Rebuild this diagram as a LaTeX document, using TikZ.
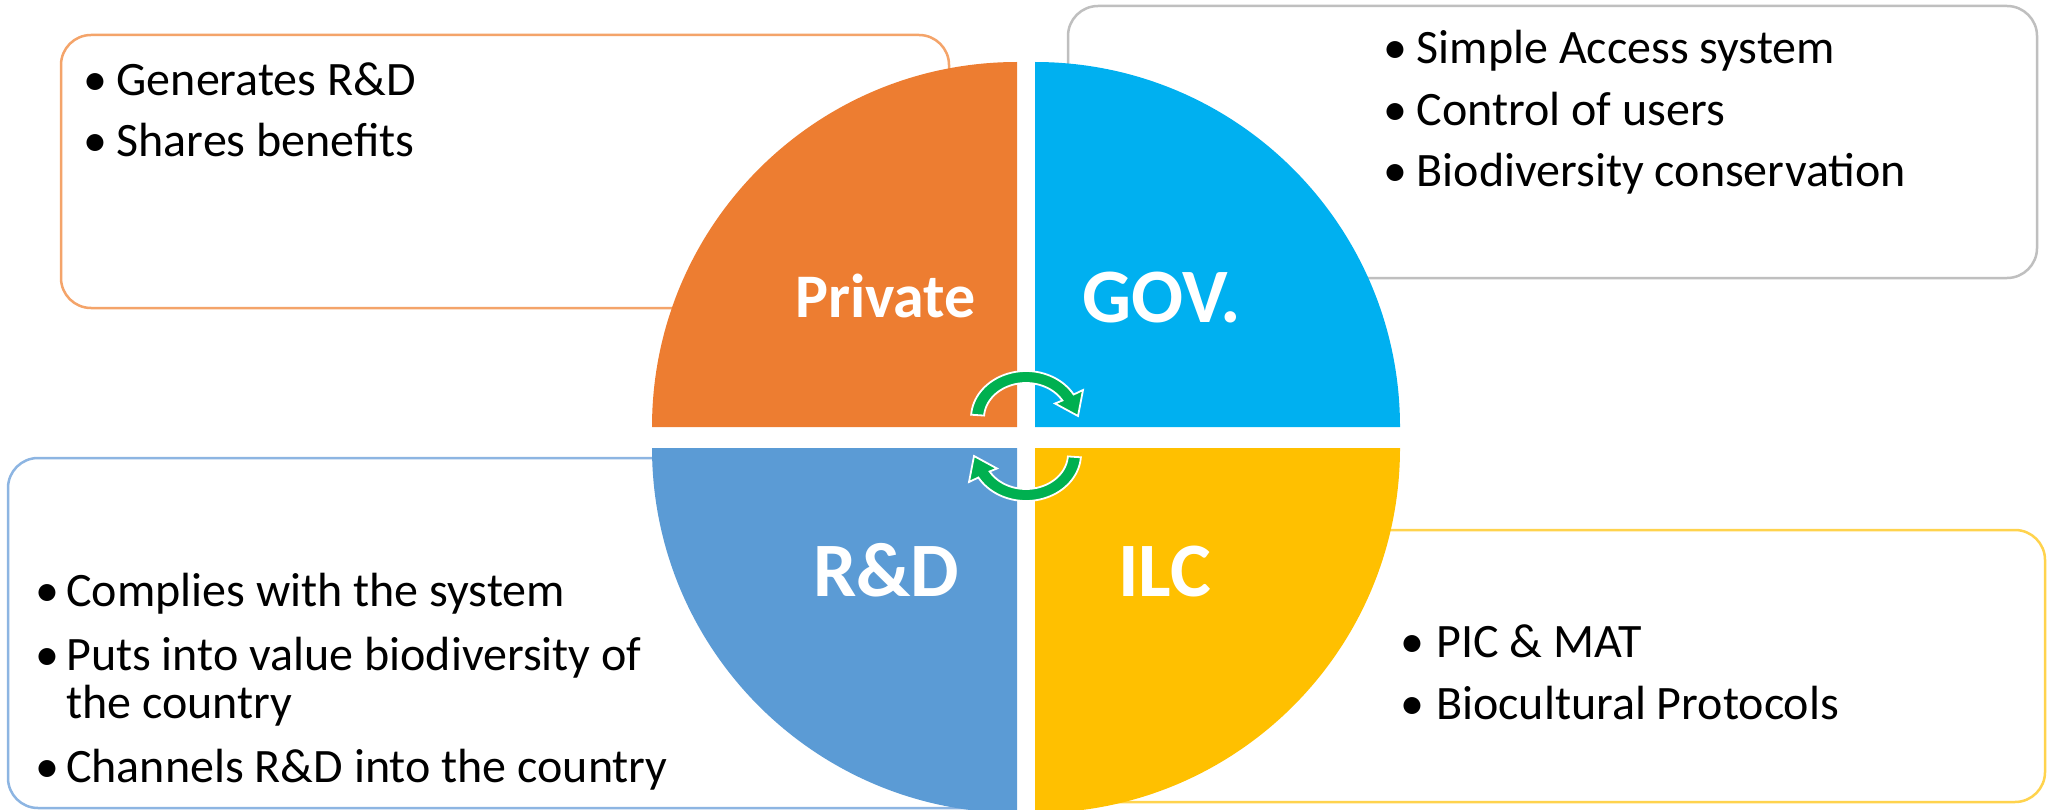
\documentclass[tikz,border=0pt]{standalone}
\usepackage{fontspec}
\setmainfont{Carlito}
\definecolor{qPriv}{HTML}{ED7D31}
\definecolor{qGov}{HTML}{00B0F0}
\definecolor{qRD}{HTML}{5B9BD5}
\definecolor{qILC}{HTML}{FFC000}
\definecolor{bPriv}{HTML}{F4A46A}
\definecolor{bGov}{HTML}{BFBFBF}
\definecolor{bRD}{HTML}{8DB5E2}
\definecolor{bILC}{HTML}{FFD34D}
\definecolor{arrGreen}{HTML}{00B050}
\begin{document}
\begin{tikzpicture}[x=1pt,y=-1pt,
  infobox/.style={rounded corners=30pt, line width=2.5pt, fill=white},
  btxt/.style={anchor=base west, inner sep=0pt, font=\fontsize{48}{52}\selectfont},
  qlabel/.style={anchor=base west, inner sep=0pt, text=white, font=\bfseries\fontsize{77}{80}\selectfont},
  cyc/.style={fill=arrGreen, draw=white, line width=1.8pt, line join=miter}]
\useasboundingbox (0,0) rectangle (2049,810);
% information boxes
\draw[infobox, draw=bPriv] (61,35) rectangle (949,308);
\draw[infobox, draw=bGov] (1068,6) rectangle (2037,278);
\draw[infobox, draw=bRD] (8,458) rectangle (1010,808);
\draw[infobox, draw=bILC] (1045,530) rectangle (2045,802);
% quadrants
\fill[qPriv] (1017,427) -- (652,427) arc[start angle=180, end angle=270, radius=365] -- cycle;
\fill[qGov] (1035,427) -- (1035,62) arc[start angle=270, end angle=360, radius=365] -- cycle;
\fill[qRD] (1017,448) -- (652,448) arc[start angle=180, end angle=90, radius=365] -- cycle;
\fill[qILC] (1035,448) -- (1400,448) arc[start angle=0, end angle=90, radius=365] -- cycle;
% quadrant labels
\node[qlabel, font=\bfseries\fontsize{62}{66}\selectfont] (lPriv) at (795,317) {Private};
\node[qlabel] (lGov) at (1082,322) {GOV.};
\node[qlabel] (lRD) at (813,596) {R\&D};
\node[qlabel] (lILC) at (1118,596) {ILC};
% cycle arrows
\path[cyc] plot[domain=176:30, samples=40] ({1026+55*cos(\x)},{418-47*sin(\x)})
  -- (1083,390) -- (1078,416) -- (1055,403.5)
  -- plot[domain=30:176, samples=40] ({1026+42*cos(\x)},{418-35*sin(\x)}) -- cycle;
\begin{scope}[rotate around={180:(1026,436)}]
\path[cyc] plot[domain=176:30, samples=40] ({1026+55*cos(\x)},{418-47*sin(\x)})
  -- (1083,390) -- (1078,416) -- (1055,403.5)
  -- plot[domain=30:176, samples=40] ({1026+42*cos(\x)},{418-35*sin(\x)}) -- cycle;
\end{scope}
% Private texts
\node[btxt] (pb1) at (83,96) {\textbullet};
\node[btxt] (p1) at (116.5,96) {Generates R\&D};
\node[btxt] (pb2) at (83,157) {\textbullet};
\node[btxt] (p2) at (116.5,157) {Shares benefits};
% GOV texts
\node[btxt] (gb1) at (1383,64) {\textbullet};
\node[btxt] (g1) at (1416.5,64) {Simple Access system};
\node[btxt] (gb2) at (1383,126) {\textbullet};
\node[btxt] (g2) at (1416.5,126) {Control of users};
\node[btxt] (gb3) at (1383,187) {\textbullet};
\node[btxt] (g3) at (1416.5,187) {Biodiversity conservation};
% R&D texts
\node[btxt] (rb1) at (35,606) {\textbullet};
\node[btxt] (r1) at (66,606) {Complies with the system};
\node[btxt] (rb2) at (35,670) {\textbullet};
\node[btxt] (r2) at (66,670) {Puts into value biodiversity of};
\node[btxt] (r3) at (66,718) {the country};
\node[btxt] (rb4) at (35,782) {\textbullet};
\node[btxt] (r4) at (66,782) {Channels R\&D into the country};
% ILC texts
\node[btxt] (ib1) at (1400,657) {\textbullet};
\node[btxt] (i1) at (1436,657) {PIC \& MAT};
\node[btxt] (ib2) at (1400,719) {\textbullet};
\node[btxt] (i2) at (1436,719) {Biocultural Protocols};
\end{tikzpicture}
\end{document}
